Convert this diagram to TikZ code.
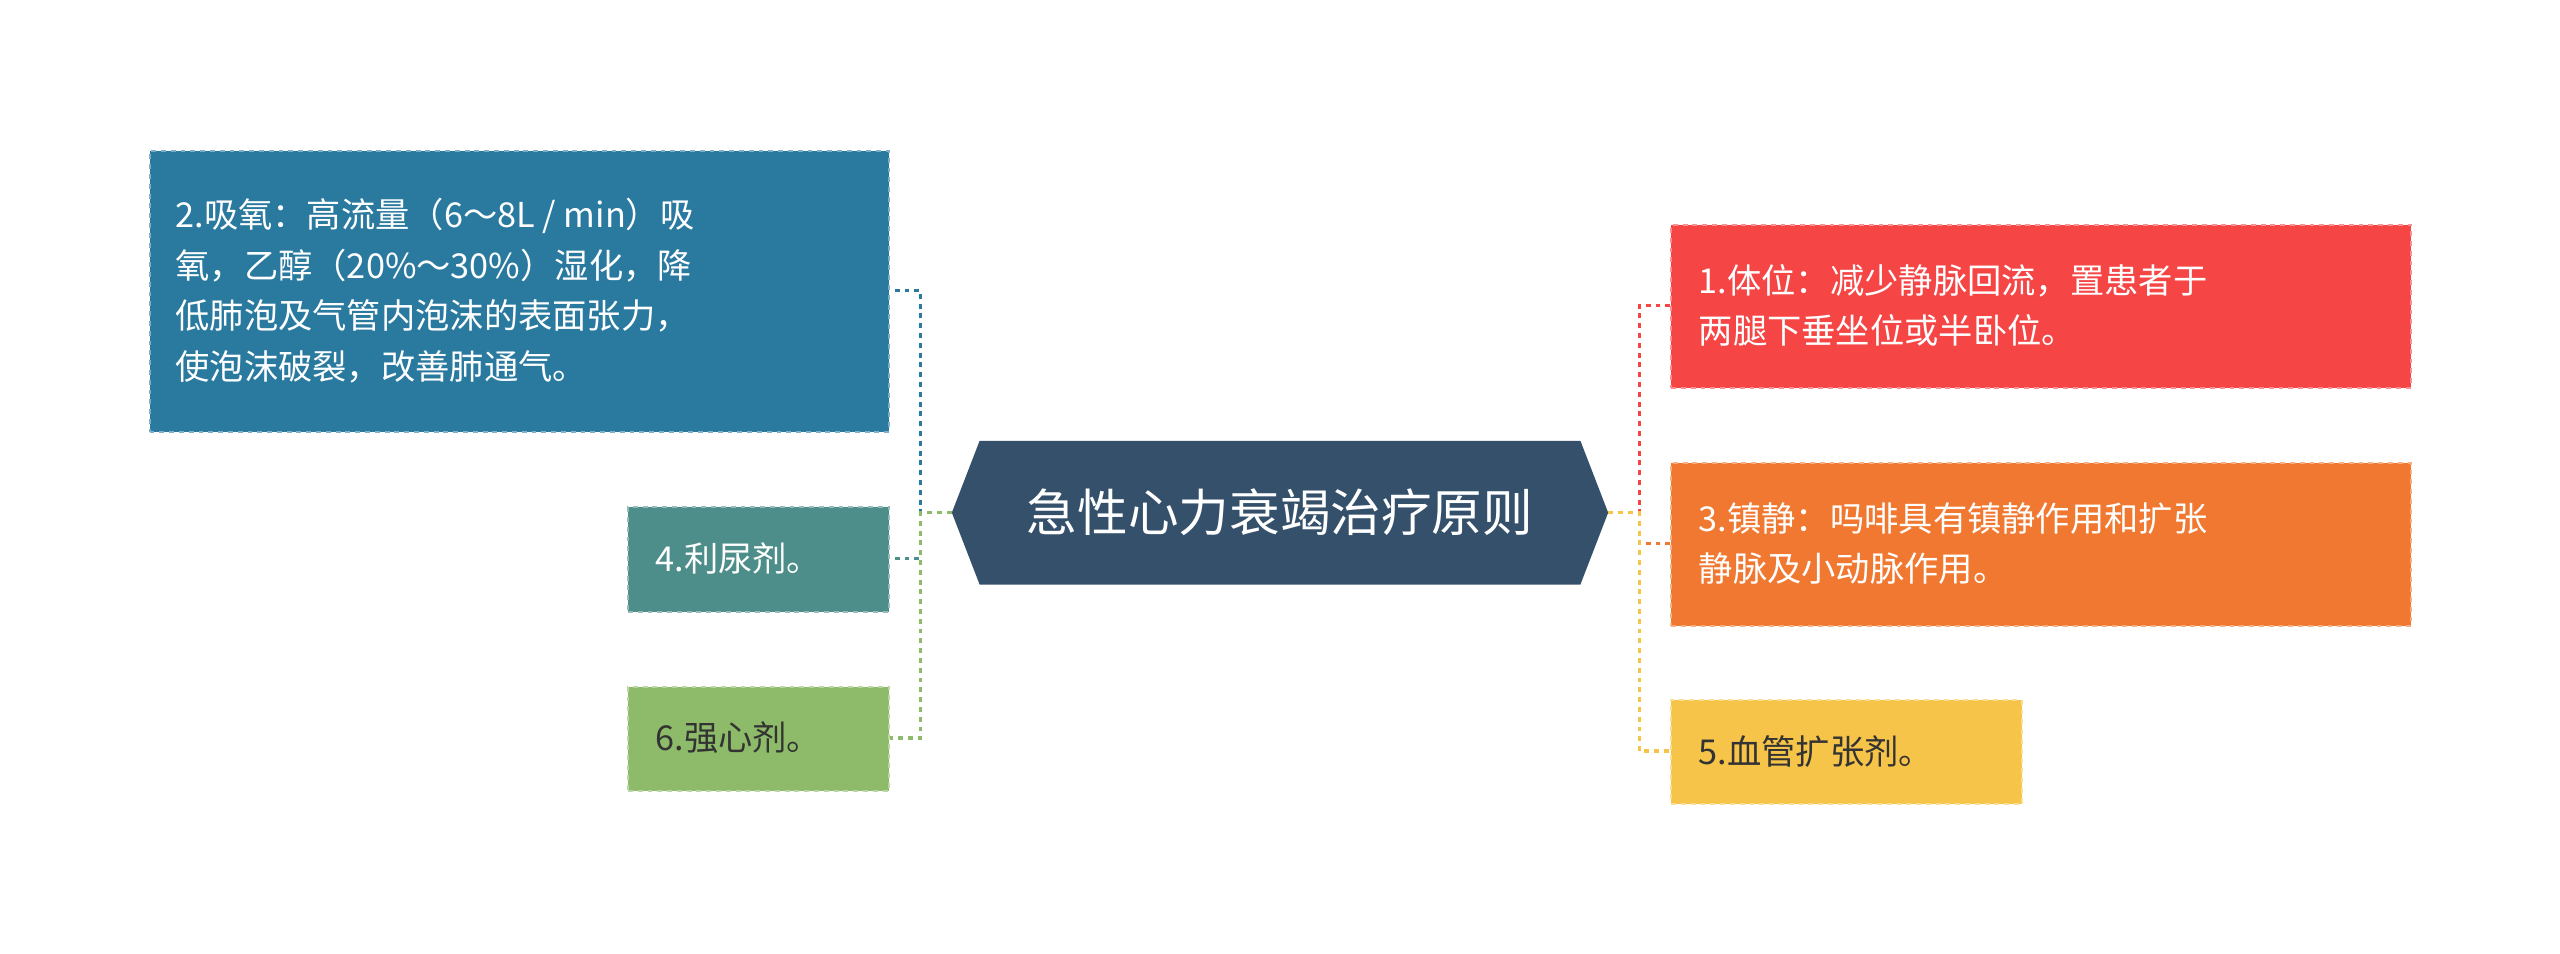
\documentclass[tikz,border=0pt]{standalone}
\usepackage{fontspec}
\setmainfont{Noto Sans CJK SC}
\usetikzlibrary{shapes.misc,shapes.geometric}
\definecolor{cC}{HTML}{34506B}
\definecolor{c2}{HTML}{2A7AA0}
\definecolor{c4}{HTML}{4E8E8A}
\definecolor{c6}{HTML}{8DBB6A}
\definecolor{c1}{HTML}{F54545}
\definecolor{c3}{HTML}{F07830}
\definecolor{c5}{HTML}{F7C44A}
\tikzset{
 box/.style={draw=#1!60!white,fill=#1,dashed,line width=1.2pt,inner sep=0pt,anchor=north west,
   font=\fontsize{21}{31}\selectfont,align=left,text=white},
 conn/.style={draw=#1,dashed,line width=2pt},
}
\begin{document}
\begin{tikzpicture}[x=1pt,y=-1pt]
\useasboundingbox (0,0) rectangle (1568,584);
% center hexagon
\fill[cC] (583,314) -- (600,270) -- (968,270) -- (985,314) -- (968,358) -- (600,358) -- cycle;
\node[text=white,font=\fontsize{31}{36}\selectfont] (c) at (784,314) {急性心力衰竭治疗原则};
\coordinate (cl) at (583,314);
\coordinate (cr) at (985,314);
% left
\node[box=c2,minimum width=453,minimum height=172] (n2) at (91,92) {};
\node[anchor=west,text=white,align=left,font=\fontsize{21}{31}\selectfont] at (104,178)
 {2.吸氧：高流量（6～8L / min）吸\\氧，乙醇（20\%～30\%）湿化，降\\低肺泡及气管内泡沫的表面张力，\\使泡沫破裂，改善肺通气。};
\node[box=c4,minimum width=160,minimum height=64] (n4) at (384,310) {};
\node[text=white,font=\fontsize{21}{31}\selectfont,anchor=west] at (398,342) {4.利尿剂。};
\node[box=c6,minimum width=160,minimum height=64] (n6) at (384,420) {};
\node[text=black!80,font=\fontsize{21}{31}\selectfont,anchor=west] at (398,452) {6.强心剂。};
% right
\node[box=c1,minimum width=453,minimum height=100] (n1) at (1023,137) {};
\node[text=white,font=\fontsize{21}{31}\selectfont,anchor=west,align=left] at (1037,187) {1.体位：减少静脉回流，置患者于\\两腿下垂坐位或半卧位。};
\node[box=c3,minimum width=453,minimum height=100] (n3) at (1023,283) {};
\node[text=white,font=\fontsize{21}{31}\selectfont,anchor=west,align=left] at (1037,333) {3.镇静：吗啡具有镇静作用和扩张\\静脉及小动脉作用。};
\node[box=c5,minimum width=215,minimum height=64] (n5) at (1023,428) {};
\node[text=black!80,font=\fontsize{21}{31}\selectfont,anchor=west] at (1037,460) {5.血管扩张剂。};
% connectors left
\draw[conn=c2] (cl) -- (564,314) -- (564,178) -- (n2.east|-0,178);
\draw[conn=c4] (cl) -- (564,314) -- (564,342) -- (n4.east|-0,342);
\draw[conn=c6] (cl) -- (564,314) -- (564,452) -- (n6.east|-0,452);
% connectors right
\draw[conn=c1] (cr) -- (1004,314) -- (1004,187) -- (n1.west|-0,187);
\draw[conn=c3] (cr) -- (1004,314) -- (1004,333) -- (n3.west|-0,333);
\draw[conn=c5] (cr) -- (1004,314) -- (1004,460) -- (n5.west|-0,460);
\end{tikzpicture}
\end{document}
